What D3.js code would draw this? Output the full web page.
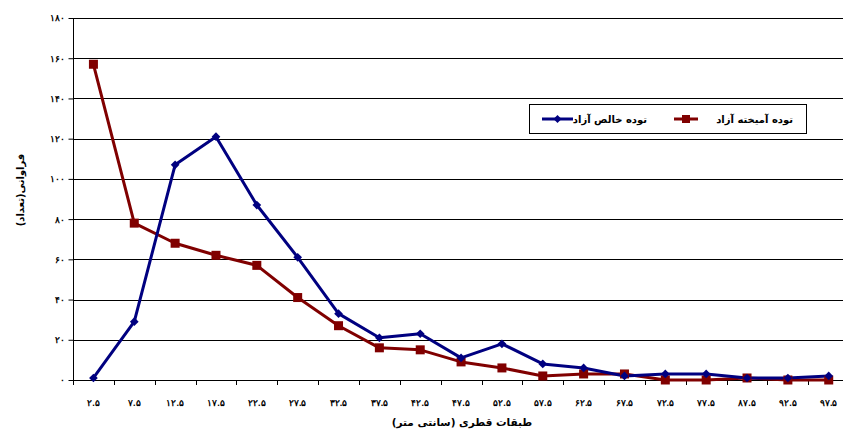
<!DOCTYPE html>
<html>
<head>
<meta charset="utf-8">
<script src="https://cdn.jsdelivr.net/npm/d3@7"></script>
<style>
html,body{margin:0;padding:0;background:#fff;overflow:hidden;}
svg{display:block;font-family:"DejaVu Sans",sans-serif;}
</style>
</head>
<body>
<svg id="chart" width="843" height="430"></svg>
<script>
const categories = ["۲.۵","۷.۵","۱۲.۵","۱۷.۵","۲۲.۵","۲۷.۵","۳۲.۵","۳۷.۵","۴۲.۵","۴۷.۵","۵۲.۵","۵۷.۵","۶۲.۵","۶۷.۵","۷۲.۵","۷۷.۵","۸۷.۵","۹۲.۵","۹۷.۵"];
const pureValues = [1,29,107,121,87,61,33,21,23,11,18,8,6,2,3,3,1,1,2];
const mixedValues = [157,78,68,62,57,41,27,16,15,9,6,2,3,3,0,0,1,0,0];
const yTicks = [0,20,40,60,80,100,120,140,160,180];
const yTickLabels = ["۰","۲۰","۴۰","۶۰","۸۰","۱۰۰","۱۲۰","۱۴۰","۱۶۰","۱۸۰"];
const seriesNames = ["توده خالص آزاد","توده آمیخته آزاد"];
const xTitle = "طبقات قطری (سانتی متر)";
const yTitle = "فراوانی(تعداد)";

const svg = d3.select("#chart");
const mLeft = 73, mTop = 18, mBottom = 380, band = 40.85;
const x = d3.scaleBand().domain(categories).range([mLeft, mLeft + band * categories.length]).padding(0);
const y = d3.scaleLinear().domain([0, 180]).range([mBottom, mTop]);

// gridlines
svg.append("g").selectAll("line").data(yTicks.filter(d => d > 0)).join("line")
  .attr("x1", mLeft).attr("x2", 843)
  .attr("y1", d => Math.round(y(d)) + 0.5).attr("y2", d => Math.round(y(d)) + 0.5)
  .attr("stroke", "#000").attr("stroke-width", 1);

// y axis
const yAxis = svg.append("g").attr("transform", `translate(${mLeft + 0.5},0)`)
  .call(d3.axisLeft(y).tickValues(yTicks).tickSize(5).tickSizeOuter(0)
    .tickFormat((d, i) => yTickLabels[i]));
yAxis.select(".domain").attr("stroke", "#000").attr("d", `M0,${mTop}V${mBottom + 5}`);
yAxis.selectAll(".tick line").attr("stroke", "#000");
yAxis.selectAll("text").attr("font-size", 9).attr("font-weight", "bold").attr("fill", "#000").attr("x", -9);

// x axis (labels at band centers, ticks at boundaries)
const xAxis = svg.append("g").attr("transform", `translate(0,${mBottom + 0.5})`)
  .call(d3.axisBottom(x).tickSize(0).tickSizeOuter(0));
xAxis.select(".domain").attr("stroke", "#000").attr("d", `M${mLeft},0H843`);
xAxis.selectAll("text").attr("font-size", 9).attr("font-weight", "bold").attr("fill", "#000").attr("dy", 0).attr("y", 25);
svg.append("g").selectAll("line").data(categories).join("line")
  .attr("x1", d => Math.round(x(d)) + 0.5).attr("x2", d => Math.round(x(d)) + 0.5)
  .attr("y1", mBottom).attr("y2", mBottom + 5).attr("stroke", "#000");

const cx = d => x(d) + x.bandwidth() / 2;
const line = d3.line().x(d => cx(d.c)).y(d => y(d.v));

const mixed = categories.map((c, i) => ({c, v: mixedValues[i]}));
const pure = categories.map((c, i) => ({c, v: pureValues[i]}));

svg.append("path").datum(mixed).attr("d", line).attr("fill", "none")
  .attr("stroke", "#800000").attr("stroke-width", 3).attr("stroke-linejoin", "round");
svg.append("path").datum(pure).attr("d", line).attr("fill", "none")
  .attr("stroke", "#000080").attr("stroke-width", 3).attr("stroke-linejoin", "round");

svg.append("g").selectAll("rect").data(mixed).join("rect")
  .attr("x", d => cx(d.c) - 4.5).attr("y", d => y(d.v) - 4.5)
  .attr("width", 9).attr("height", 9).attr("fill", "#800000");
svg.append("g").selectAll("path").data(pure).join("path")
  .attr("transform", d => `translate(${cx(d.c)},${y(d.v)}) rotate(45)`)
  .attr("d", d3.symbol().type(d3.symbolSquare).size(38)).attr("fill", "#000080");

// legend
const lg = svg.append("g");
lg.append("rect").attr("x", 529.5).attr("y", 104.5).attr("width", 277).attr("height", 29)
  .attr("fill", "#fff").attr("stroke", "#000").attr("stroke-width", 1);
// mixed (right)
lg.append("line").attr("x1", 674).attr("x2", 698).attr("y1", 119).attr("y2", 119)
  .attr("stroke", "#800000").attr("stroke-width", 3);
lg.append("rect").attr("x", 682).attr("y", 115).attr("width", 8).attr("height", 8).attr("fill", "#800000");
lg.append("text").attr("x", 793).attr("y", 122.5).attr("text-anchor", "start").attr("direction", "rtl")
  .attr("font-size", 10).attr("font-weight", "bold").text(seriesNames[1]);
// pure (left)
lg.append("line").attr("x1", 542).attr("x2", 573).attr("y1", 119).attr("y2", 119)
  .attr("stroke", "#000080").attr("stroke-width", 3);
lg.append("path").attr("transform", "translate(557.5,119) rotate(45)")
  .attr("d", d3.symbol().type(d3.symbolSquare).size(32)).attr("fill", "#000080");
lg.append("text").attr("x", 647).attr("y", 122.5).attr("text-anchor", "start").attr("direction", "rtl")
  .attr("font-size", 10).attr("font-weight", "bold").text(seriesNames[0]);

// titles
svg.append("text").attr("x", 462).attr("y", 426).attr("text-anchor", "middle").attr("direction", "rtl")
  .attr("font-size", 10.5).attr("font-weight", "bold").text(xTitle);
svg.append("text").attr("transform", "translate(24,190) rotate(-90)").attr("text-anchor", "middle").attr("direction", "rtl")
  .attr("font-size", 10).attr("font-weight", "bold").text(yTitle);
</script>
</body>
</html>
